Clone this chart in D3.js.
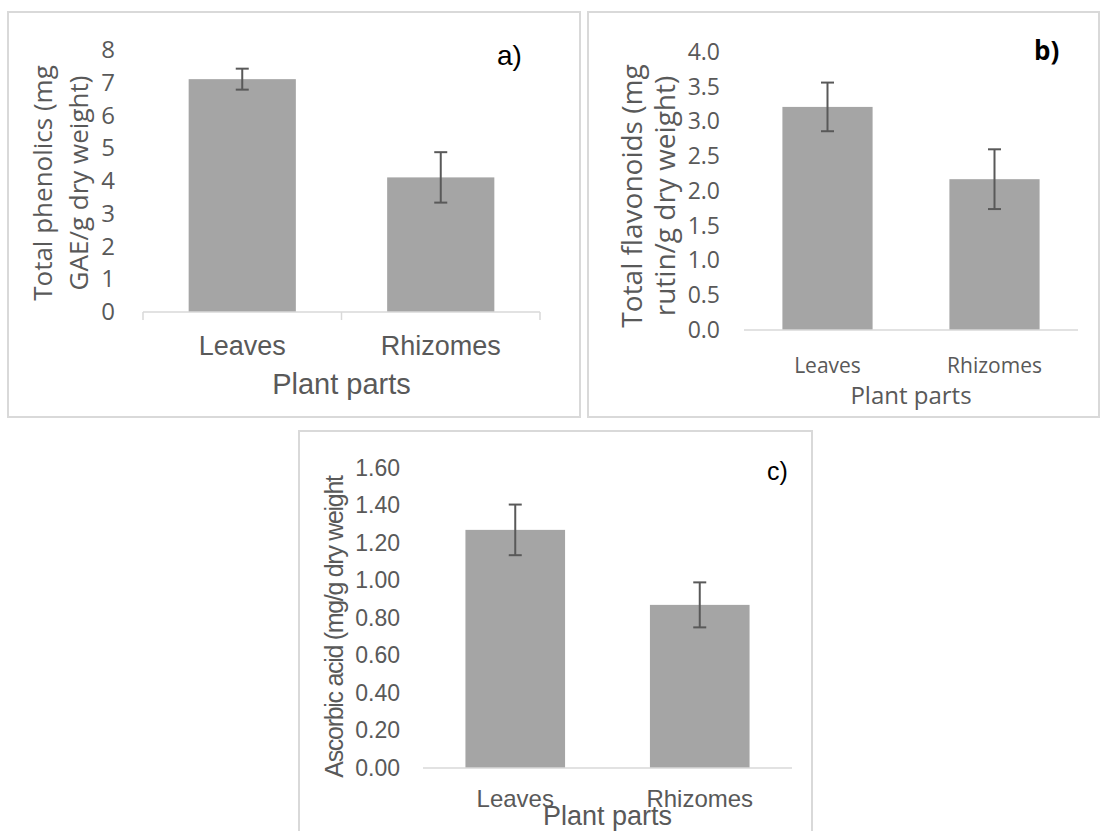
<!DOCTYPE html>
<html>
<head>
<meta charset="utf-8">
<script src="https://cdn.jsdelivr.net/npm/d3@7"></script>
<style>
  body { margin: 0; background: #fff; }
</style>
</head>
<body>
<div id="chart"></div>
<script>
// Data
const parts = ["Leaves", "Rhizomes"];

const phenolics = [7.11, 4.11];
const phenolicsErr = [0.32, 0.77];
const phenolicsTicks = [0, 1, 2, 3, 4, 5, 6, 7, 8];

const flavonoids = [3.21, 2.17];
const flavonoidsErr = [0.35, 0.43];
const flavonoidsTicks = [0, 0.5, 1, 1.5, 2, 2.5, 3, 3.5, 4];

const ascorbic = [1.27, 0.87];
const ascorbicErr = [0.135, 0.12];
const ascorbicTicks = [0, 0.2, 0.4, 0.6, 0.8, 1.0, 1.2, 1.4, 1.6];

const barColor = "#a5a5a5";
const textColor = "#595959";
const lineColor = "#d9d9d9";

const svg = d3.select("#chart")
    .append("svg")
    .attr("width", 1101)
    .attr("height", 831);

function drawPanel(p) {
    const g = svg.append("g");

    // Frame round the panel
    g.append("rect")
        .attr("x", p.box[0])
        .attr("y", p.box[1])
        .attr("width", p.box[2] - p.box[0])
        .attr("height", p.box[3] - p.box[1])
        .attr("fill", "none")
        .attr("stroke", lineColor)
        .attr("stroke-width", 2);

    const x = d3.scaleBand()
        .domain(parts)
        .range([p.left, p.right])
        .paddingInner(0.46)
        .paddingOuter(0.23);

    const y = d3.scaleLinear()
        .domain([0, p.ticks[p.ticks.length - 1]])
        .range([p.zero, p.top]);

    // Bars
    g.selectAll("rect.bar")
        .data(parts)
        .join("rect")
        .attr("class", "bar")
        .attr("x", d => x(d))
        .attr("y", (d, i) => y(p.values[i]))
        .attr("width", x.bandwidth())
        .attr("height", (d, i) => y(0) - y(p.values[i]))
        .attr("fill", barColor);

    // Error bars
    const err = g.selectAll("g.err")
        .data(parts)
        .join("g")
        .attr("class", "err")
        .attr("stroke", textColor)
        .attr("stroke-width", 2);
    const cx = d => x(d) + x.bandwidth() / 2;
    err.append("line")
        .attr("x1", cx).attr("x2", cx)
        .attr("y1", (d, i) => y(p.values[i] + p.errors[i]))
        .attr("y2", (d, i) => y(p.values[i] - p.errors[i]));
    [1, -1].forEach(s => {
        err.append("line")
            .attr("x1", d => cx(d) - 6.5).attr("x2", d => cx(d) + 6.5)
            .attr("y1", (d, i) => y(p.values[i] + s * p.errors[i]))
            .attr("y2", (d, i) => y(p.values[i] + s * p.errors[i]));
    });

    // Category axis line
    g.append("line")
        .attr("x1", p.left).attr("x2", p.right)
        .attr("y1", p.zero).attr("y2", p.zero)
        .attr("stroke", lineColor)
        .attr("stroke-width", 1.5);

    if (p.tickMarks) {
        const edges = d3.range(parts.length + 1).map(i => p.left + i * x.step());
        g.selectAll("line.tk")
            .data(edges)
            .join("line")
            .attr("class", "tk")
            .attr("x1", d => d).attr("x2", d => d)
            .attr("y1", p.zero).attr("y2", p.zero + 8)
            .attr("stroke", lineColor)
            .attr("stroke-width", 1.5);
    }

    // Value axis
    const ya = g.append("g")
        .attr("transform", `translate(${p.left},0)`)
        .call(d3.axisLeft(y)
            .tickValues(p.ticks)
            .tickFormat(d3.format(p.fmt))
            .tickSize(0)
            .tickPadding(p.tickPad));
    ya.select(".domain").remove();
    ya.attr("font-family", p.tickFont)
        .attr("font-size", p.tickSize);
    ya.selectAll("text").attr("fill", textColor);

    // Category labels
    const xa = g.append("g")
        .attr("transform", `translate(0,${p.zero})`)
        .call(d3.axisBottom(x).tickSize(0));
    xa.select(".domain").remove();
    xa.attr("font-family", p.catFont)
        .attr("font-size", p.catSize);
    xa.selectAll("text")
        .attr("fill", textColor)
        .attr("y", p.catY - p.zero)
        .attr("dy", null);

    // Axis titles
    g.append("text")
        .attr("x", (p.left + p.right) / 2)
        .attr("y", p.xTitleY)
        .attr("text-anchor", "middle")
        .attr("font-family", p.catFont)
        .attr("font-size", p.xTitleSize)
        .attr("fill", textColor)
        .text("Plant parts");

    p.yTitle.forEach((line, i) => {
        g.append("text")
            .attr("transform", `translate(${p.yTitleX[i]},${p.yTitleMid}) rotate(-90)`)
            .attr("text-anchor", "middle")
            .attr("font-family", p.yTitleFont)
            .attr("font-size", p.yTitleSize)
            .attr("letter-spacing", p.yTitleSpacing || 0)
            .attr("fill", textColor)
            .text(line);
    });

    // Panel letter
    g.append("text")
        .attr("x", p.letterPos[0])
        .attr("y", p.letterPos[1])
        .attr("font-family", p.letterFont)
        .attr("font-size", p.letterSize)
        .attr("font-weight", p.letterWeight || "normal")
        .attr("fill", "#000")
        .text(p.letter);
}

drawPanel({
    box: [8, 12, 580, 417],
    left: 143, right: 540, zero: 312, top: 50,
    values: phenolics, errors: phenolicsErr, ticks: phenolicsTicks, fmt: "d",
    tickMarks: true,
    tickFont: "Open Sans", tickSize: 24, tickPad: 28,
    catFont: "Liberation Sans, Arial, sans-serif", catSize: 27, catY: 355,
    xTitleY: 394, xTitleSize: 29,
    yTitle: ["Total phenolics (mg", "GAE/g dry weight)"],
    yTitleX: [52, 88], yTitleMid: 183,
    yTitleFont: "Open Sans", yTitleSize: 26,
    letter: "a)", letterPos: [497, 65],
    letterFont: "Liberation Sans, Arial, sans-serif", letterSize: 28
});

drawPanel({
    box: [588, 12, 1099, 417],
    left: 744, right: 1078, zero: 330, top: 52,
    values: flavonoids, errors: flavonoidsErr, ticks: flavonoidsTicks, fmt: ".1f",
    tickMarks: false,
    tickFont: "Open Sans", tickSize: 23, tickPad: 24,
    catFont: "Open Sans", catSize: 21, catY: 373,
    xTitleY: 404, xTitleSize: 24,
    yTitle: ["Total flavonoids (mg", "rutin/g dry weight)"],
    yTitleX: [642, 675], yTitleMid: 196,
    yTitleFont: "Open Sans", yTitleSize: 28,
    letter: "b)", letterPos: [1034, 60],
    letterFont: "Open Sans", letterSize: 26, letterWeight: "bold"
});

drawPanel({
    box: [299, 431, 812, 850],
    left: 423, right: 792, zero: 768, top: 468,
    values: ascorbic, errors: ascorbicErr, ticks: ascorbicTicks, fmt: ".2f",
    tickMarks: false,
    tickFont: "Liberation Sans, Arial, sans-serif", tickSize: 23, tickPad: 23,
    catFont: "Liberation Sans, Arial, sans-serif", catSize: 24, catY: 807,
    xTitleY: 825, xTitleSize: 27,
    yTitle: ["Ascorbic acid (mg/g dry weight"],
    yTitleX: [343], yTitleMid: 627,
    yTitleFont: "Liberation Sans, Arial, sans-serif", yTitleSize: 25, yTitleSpacing: -1.3,
    letter: "c)", letterPos: [767, 480],
    letterFont: "Liberation Sans, Arial, sans-serif", letterSize: 25
});
</script>
</body>
</html>
